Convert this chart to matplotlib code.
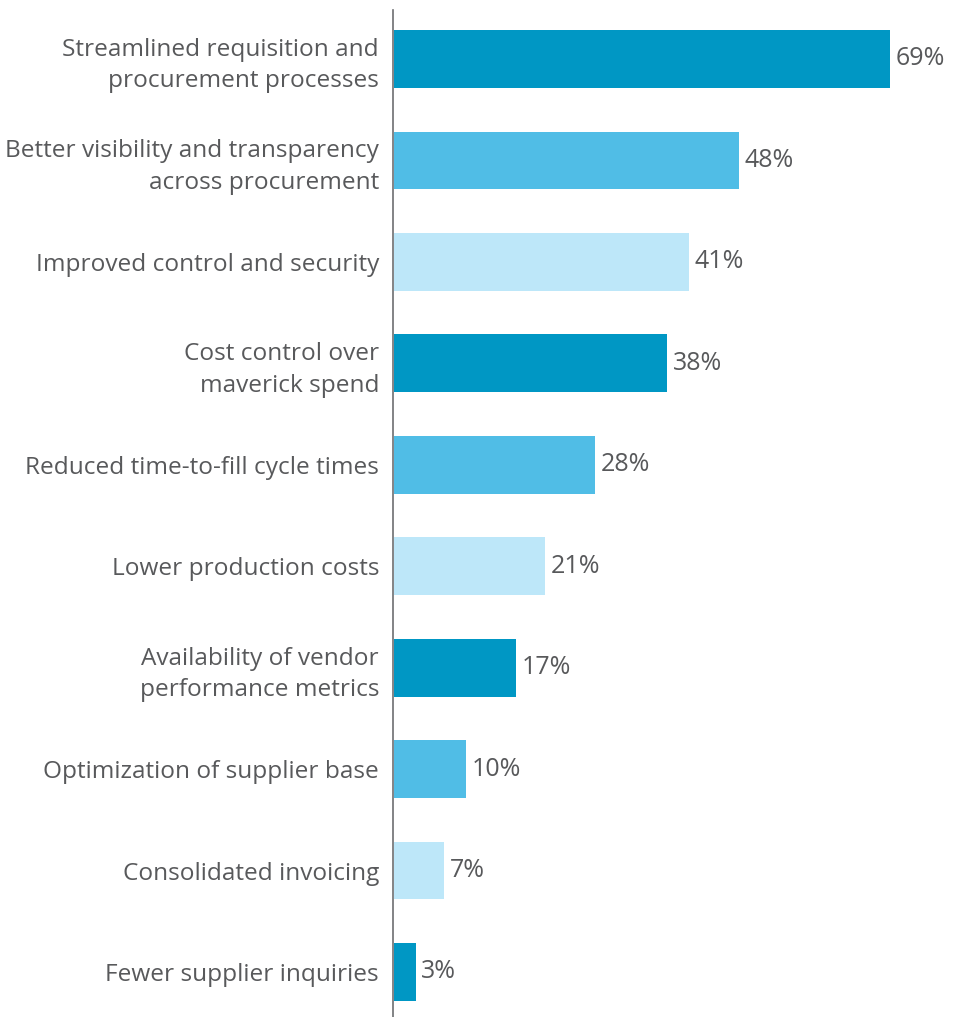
import matplotlib
matplotlib.use("Agg")
import matplotlib.pyplot as plt

categories = [
    "Streamlined requisition and\nprocurement processes",
    "Better visibility and transparency\nacross procurement",
    "Improved control and security",
    "Cost control over\nmaverick spend",
    "Reduced time-to-fill cycle times",
    "Lower production costs",
    "Availability of vendor\nperformance metrics",
    "Optimization of supplier base",
    "Consolidated invoicing",
    "Fewer supplier inquiries",
]
values = [69, 48, 41, 38, 28, 21, 17, 10, 7, 3]
palette = ["#0097c4", "#50bde6", "#bde7f9"]

plt.rcParams["font.family"] = ["Open Sans", "DejaVu Sans"]
text_color = "#58595b"

W, H = 964, 1017
fig = plt.figure(figsize=(W / 100, H / 100), dpi=100)
ax = fig.add_axes([393 / W, 0, 1 - 393 / W, 1 - 10 / H])

ypos = list(range(len(values)))
colors = [palette[i % 3] for i in ypos]
ax.barh(ypos, values, height=0.57, color=colors, left=0.15)

for y, v in zip(ypos, values):
    ax.text(v + 0.15 + 0.75, y, f"{v}%", va="center", ha="left",
            fontsize=18, color=text_color)

ax.set_xlim(0, 79.4)
ax.set_ylim(9.444, -0.483)
ax.set_yticks(ypos)
ax.set_yticklabels(categories, fontsize=17.6, color=text_color,
                   linespacing=1.4, ha="right", va="center_baseline")
ax.tick_params(axis="y", length=0, pad=10)
ax.set_xticks([])

for side in ["top", "right", "bottom"]:
    ax.spines[side].set_visible(False)
ax.spines["left"].set_color("#6d6e71")
ax.spines["left"].set_linewidth(1.2)

fig.savefig("out.png", dpi=100)
